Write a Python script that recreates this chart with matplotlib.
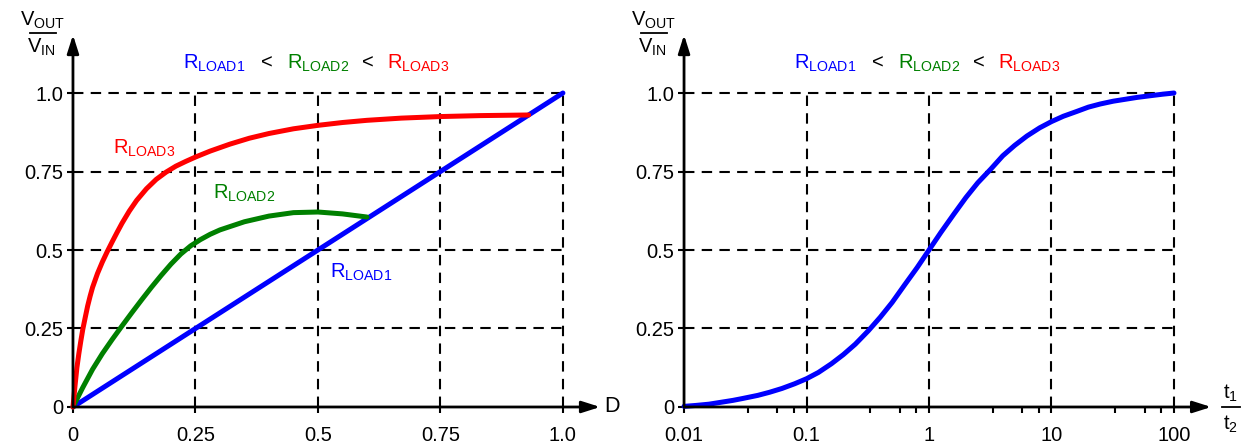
import matplotlib
matplotlib.use('Agg')
import matplotlib.pyplot as plt
from matplotlib.ticker import FixedLocator, NullFormatter

plt.rcParams['font.family'] = ['Liberation Sans', 'DejaVu Sans']
plt.rcParams['mathtext.fontset'] = 'custom'
plt.rcParams['mathtext.rm'] = 'Liberation Sans'
plt.rcParams['mathtext.default'] = 'regular'

# left panel: duty cycle D vs Vout/Vin
d_load1 = [0.0, 1.0]
v_load1 = [0.0, 1.0]

d_load2 = [0.0, 0.02, 0.04, 0.06, 0.08, 0.1, 0.12, 0.14, 0.16, 0.18, 0.2, 0.22, 0.24, 0.26,
           0.28, 0.3, 0.35, 0.4, 0.45, 0.5, 0.55, 0.6]
v_load2 = [0.0, 0.062, 0.12, 0.17, 0.215, 0.258, 0.3, 0.341, 0.381, 0.419, 0.455, 0.487,
           0.513, 0.533, 0.55, 0.564, 0.59, 0.608, 0.619, 0.621, 0.615, 0.605]

d_load3 = [0.0, 0.004, 0.008, 0.012, 0.016, 0.02, 0.025, 0.03, 0.035, 0.04, 0.05, 0.06, 0.07,
           0.08, 0.09, 0.1, 0.115, 0.13, 0.15, 0.17, 0.19, 0.21, 0.23, 0.25, 0.28, 0.32, 0.36,
           0.4, 0.45, 0.5, 0.55, 0.6, 0.67, 0.75, 0.83, 0.93]
v_load3 = [0.0, 0.065, 0.125, 0.17, 0.21, 0.247, 0.285, 0.322, 0.353, 0.381, 0.425, 0.462,
           0.495, 0.526, 0.556, 0.585, 0.624, 0.658, 0.695, 0.725, 0.748, 0.767, 0.782, 0.796,
           0.815, 0.837, 0.856, 0.871, 0.886, 0.897, 0.906, 0.913, 0.92, 0.925, 0.928, 0.93]

# right panel: t1/t2 ratio vs Vout/Vin
t_ratio = [0.01, 0.0125, 0.016, 0.02, 0.025, 0.03, 0.04, 0.05, 0.063, 0.08, 0.1, 0.125,
           0.16, 0.2, 0.25, 0.32, 0.4, 0.5, 0.63, 0.8, 1.0, 1.25, 1.6, 2.0, 2.5, 3.2, 4.0,
           5.0, 6.3, 8.0, 10.0, 12.5, 16.0, 20.0, 25.0, 32.0, 40.0, 50.0, 63.0, 80.0, 100.0]
v_ratio = [0.002, 0.005, 0.009, 0.015, 0.021, 0.027, 0.037, 0.047, 0.059, 0.074, 0.09, 0.11,
           0.138, 0.167, 0.2, 0.243, 0.286, 0.333, 0.388, 0.444, 0.5, 0.556, 0.615, 0.667,
           0.714, 0.758, 0.8, 0.833, 0.863, 0.889, 0.909, 0.926, 0.941, 0.955, 0.965, 0.974,
           0.98, 0.986, 0.991, 0.996, 1.0]

y_ticks = [0, 0.25, 0.5, 0.75, 1.0]
y_labels = ['0', '0.25', '0.5', '0.75', '1.0']
x_ticks_lin = [0, 0.25, 0.5, 0.75, 1.0]
x_labels_lin = ['0', '0.25', '0.5', '0.75', '1.0']
x_ticks_log = [0.01, 0.1, 1, 10, 100]
x_labels_log = ['0.01', '0.1', '1', '10', '100']
minor_log = [d * m for d in [0.01, 0.1, 1, 10] for m in [3.3, 5.75, 7.9]]

BLUE = '#0000ff'
GREEN = '#008000'
RED = '#ff0000'
FS = 14.5

fig = plt.figure(figsize=(12.41, 4.45), dpi=100)
ax1 = fig.add_axes([0.0588, 0.0854, 0.3948, 0.7056])
ax2 = fig.add_axes([0.5512, 0.0854, 0.3948, 0.7056])


def dress(ax, xmin, xmax, xgrid):
    ax.set_ylim(0, 1)
    ax.set_xlim(xmin, xmax)
    for s in ax.spines.values():
        s.set_visible(False)
    # dashed grid, stops at the last tick
    ax.hlines([0.25, 0.5, 0.75, 1.0], xmin, xmax, colors='black', linestyles=(0, (5, 3.5)),
              lw=1.5, clip_on=False, zorder=1)
    ax.vlines(xgrid, 0, 1, colors='black', linestyles=(0, (5, 3.5)), lw=1.5,
              clip_on=False, zorder=1)
    # axes with arrowheads
    ax.annotate('', xy=(0, 1.185), xytext=(0, 0), xycoords='axes fraction',
                arrowprops=dict(arrowstyle='-|>,head_length=1.1,head_width=0.35', lw=2,
                                color='black', shrinkA=0, shrinkB=0), zorder=5)
    ax.annotate('', xy=(1.076, 0), xytext=(0, 0), xycoords='axes fraction',
                arrowprops=dict(arrowstyle='-|>,head_length=1.1,head_width=0.35', lw=2,
                                color='black', shrinkA=0, shrinkB=0), zorder=5)
    ax.set_yticks(y_ticks)
    ax.set_yticklabels(y_labels, fontsize=FS)
    ax.tick_params(axis='y', direction='out', length=4, width=1.5, pad=3)
    ax.tick_params(axis='x', which='both', direction='out', length=4, width=1.5, pad=10,
                   labelsize=FS)
    # Vout / Vin label
    ax.text(-0.063, 1.232, '$V_{OUT}$', transform=ax.transAxes, ha='center', va='center',
            fontsize=FS)
    ax.plot([-0.088, -0.035], [1.191, 1.191], transform=ax.transAxes, color='black', lw=1.3,
            clip_on=False)
    ax.text(-0.065, 1.146, '$V_{IN}$', transform=ax.transAxes, ha='center', va='center',
            fontsize=FS)
    # ordering of the loads
    ty = 1.096
    ax.text(0.2245, ty, '$R_{LOAD1}$', color=BLUE, transform=ax.transAxes, va='center',
            fontsize=FS)
    ax.text(0.396, ty, '<', transform=ax.transAxes, va='center', ha='center', fontsize=FS)
    ax.text(0.4367, ty, '$R_{LOAD2}$', color=GREEN, transform=ax.transAxes, va='center',
            fontsize=FS)
    ax.text(0.602, ty, '<', transform=ax.transAxes, va='center', ha='center', fontsize=FS)
    ax.text(0.641, ty, '$R_{LOAD3}$', color=RED, transform=ax.transAxes, va='center',
            fontsize=FS)


line_kw = dict(lw=3.6, clip_on=False, zorder=3, solid_capstyle='round',
               solid_joinstyle='round')

# left panel
dress(ax1, 0, 1.0, [0.25, 0.5, 0.75, 1.0])
ax1.set_xticks(x_ticks_lin)
ax1.set_xticklabels(x_labels_lin)
ax1.plot(d_load1, v_load1, color=BLUE, **line_kw)
ax1.plot(d_load2, v_load2, color=GREEN, **line_kw)
ax1.plot(d_load3, v_load3, color=RED, **line_kw)
ax1.text(0.082, 0.825, '$R_{LOAD3}$', color=RED, transform=ax1.transAxes, va='center',
         fontsize=FS)
ax1.text(0.286, 0.682, '$R_{LOAD2}$', color=GREEN, transform=ax1.transAxes, va='center',
         fontsize=FS)
ax1.text(0.524, 0.43, '$R_{LOAD1}$', color=BLUE, transform=ax1.transAxes, va='center',
         fontsize=FS)
ax1.text(1.1, 0.0, 'D', transform=ax1.transAxes, va='center', ha='center', fontsize=FS + 1)

# right panel
ax2.set_xscale('log')
dress(ax2, 0.01, 100, [0.1, 1, 10, 100])
ax2.set_xticks(x_ticks_log)
ax2.set_xticklabels(x_labels_log)
ax2.xaxis.set_minor_locator(FixedLocator(minor_log))
ax2.xaxis.set_minor_formatter(NullFormatter())
ax2.plot(t_ratio, v_ratio, color=BLUE, **line_kw)
ax2.text(1.116, 0.045, '$t_1$', transform=ax2.transAxes, va='center', ha='center',
         fontsize=FS)
ax2.plot([1.097, 1.135], [0.0, 0.0], transform=ax2.transAxes, color='black', lw=1.3,
         clip_on=False)
ax2.text(1.116, -0.055, '$t_2$', transform=ax2.transAxes, va='center', ha='center',
         fontsize=FS)

fig.savefig('out.png', dpi=100)
